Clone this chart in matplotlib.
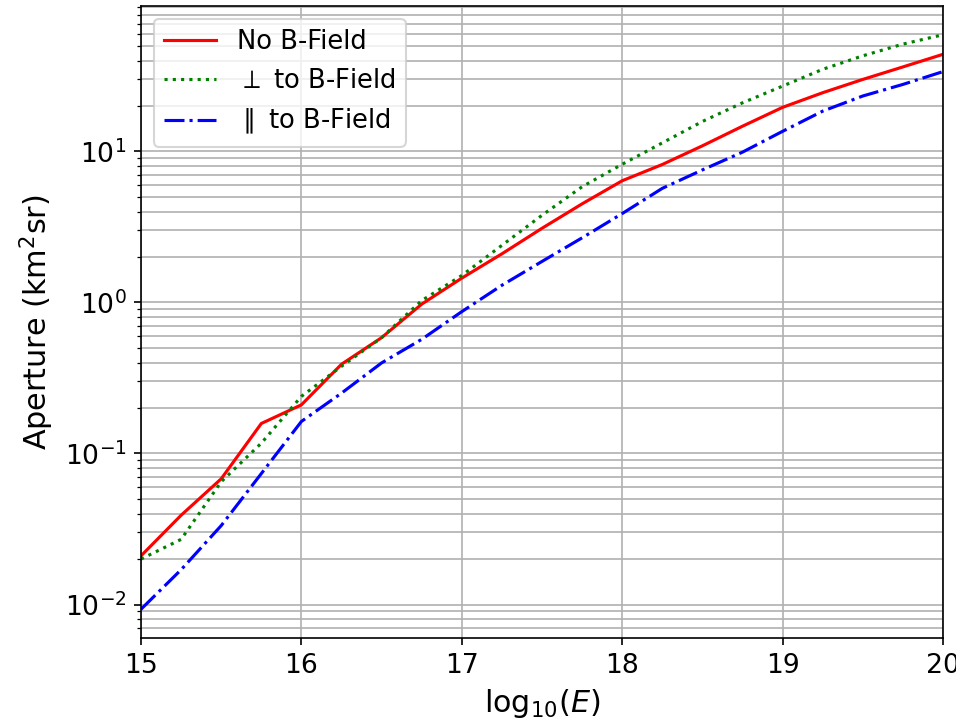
import numpy as np
import matplotlib
matplotlib.use("Agg")
import matplotlib.pyplot as plt

log_energy = [15.0, 15.25, 15.5, 15.75, 16.0, 16.25, 16.5, 16.75, 17.0, 17.25, 17.5,
              17.75, 18.0, 18.25, 18.5, 18.75, 19.0, 19.25, 19.5, 19.75, 20.0]

aperture_no_field = [0.021, 0.039, 0.068, 0.158, 0.21, 0.39, 0.585, 0.975, 1.45, 2.1, 3.1,
                     4.5, 6.4, 8.2, 10.9, 14.7, 19.6, 24.5, 30.0, 36.3, 44.0]
aperture_perp = [0.020, 0.027, 0.065, 0.117, 0.239, 0.378, 0.585, 1.03, 1.51, 2.39, 3.78,
                 5.84, 8.23, 11.4, 15.8, 21.0, 27.1, 35.0, 43.0, 51.4, 59.3]
aperture_par = [0.0093, 0.017, 0.0333, 0.0736, 0.163, 0.251, 0.398, 0.57, 0.87, 1.3, 1.87,
                2.68, 3.88, 5.7, 7.55, 9.9, 13.6, 18.5, 23.3, 27.8, 33.8]

fig = plt.figure(figsize=(956 / 150, 724 / 150), dpi=150)
ax = fig.add_axes([0.1475, 0.1188, 0.8389, 0.8729])

ax.plot(log_energy, aperture_no_field, color="red", linestyle="-", lw=1.5, label="No B-Field")
ax.plot(log_energy, aperture_perp, color="green", linestyle=":", lw=1.5, label=r"$\perp$ to B-Field")
ax.plot(log_energy, aperture_par, color="blue", linestyle="-.", lw=1.5, label=r"$\parallel$ to B-Field")

ax.set_yscale("log")
ax.set_xlim(15, 20)
ax.grid(True, which="both", color="#b0b0b0", lw=0.8)
ax.tick_params(axis="both", which="major", labelsize=12.8)
ax.set_xlabel(r"log$_{10}$($E$)", fontsize=14.5)
ax.set_ylabel(r"Aperture (km$^2$sr)", fontsize=14.5)
ax.legend(loc="upper left", fontsize=12.4)

fig.savefig("out.png", dpi=150)
